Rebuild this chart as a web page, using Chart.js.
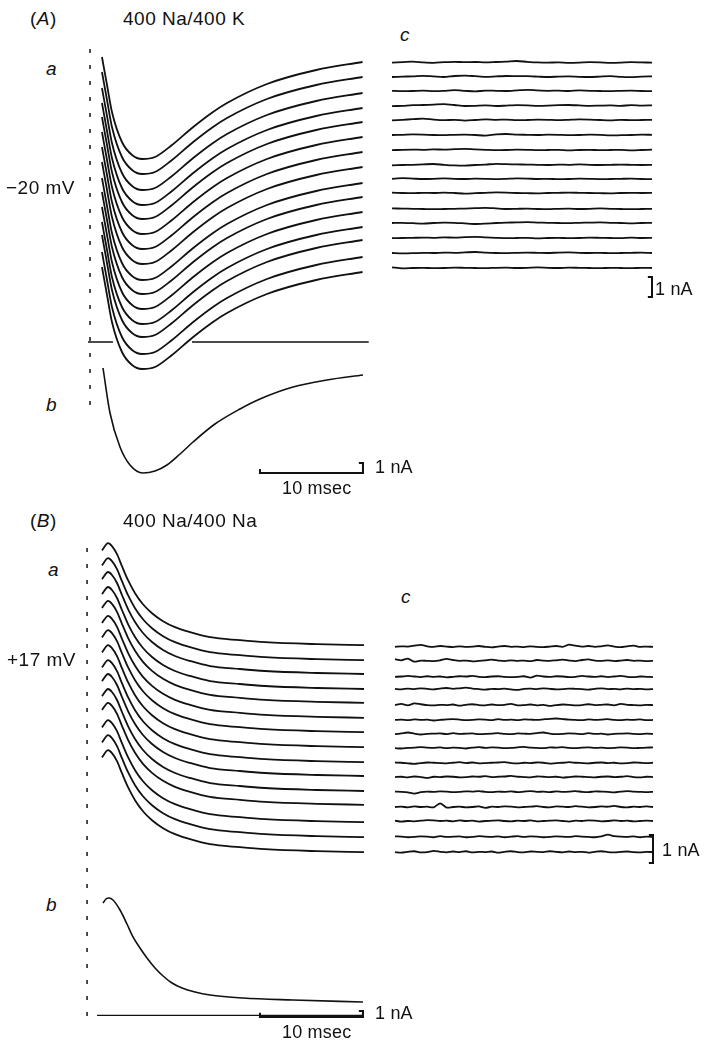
<!DOCTYPE html>
<html>
<head>
<meta charset="utf-8">
<script src="https://cdn.jsdelivr.net/npm/chart.js@4.4.1/dist/chart.umd.min.js"></script>
<style>
  html, body { margin: 0; padding: 0; background: #fff; }
  body { position: relative; width: 704px; height: 1042px; overflow: hidden;
         font-family: "Liberation Sans", Arial, sans-serif; color: #111; }
  canvas { position: absolute; }
  .lbl { position: absolute; font-size: 19px; line-height: 19px; white-space: nowrap; letter-spacing: 0.5px; }
  .sm { font-size: 18px; line-height: 18px; letter-spacing: 0.2px; }
  .it { font-style: italic; }
</style>
</head>
<body>
<canvas id="chartAab"></canvas>
<canvas id="chartAc"></canvas>
<canvas id="chartBab"></canvas>
<canvas id="chartBc"></canvas>

<div class="lbl" style="left:30px;top:9px">(<span class="it">A</span>)</div>
<div class="lbl" style="left:123px;top:9px">400 Na/400 K</div>
<div class="lbl it" style="left:46px;top:59px">a</div>
<div class="lbl" style="left:6px;top:178px">−20 mV</div>
<div class="lbl it" style="left:400px;top:25px">c</div>
<div class="lbl sm" style="left:655px;top:280px">1 nA</div>
<div class="lbl it" style="left:46px;top:395px">b</div>
<div class="lbl sm" style="left:375px;top:458px">1 nA</div>
<div class="lbl sm" style="left:282px;top:479px">10 msec</div>

<div class="lbl" style="left:30px;top:511px">(<span class="it">B</span>)</div>
<div class="lbl" style="left:123px;top:511px">400 Na/400 Na</div>
<div class="lbl it" style="left:48px;top:560px">a</div>
<div class="lbl" style="left:7px;top:650px">+17 mV</div>
<div class="lbl it" style="left:401px;top:587px">c</div>
<div class="lbl sm" style="left:662px;top:841px">1 nA</div>
<div class="lbl it" style="left:46px;top:895px">b</div>
<div class="lbl sm" style="left:375px;top:1004px">1 nA</div>
<div class="lbl sm" style="left:282px;top:1023px">10 msec</div>

<script>
// ---- panel A (400 Na/400 K), a: family of 15 records, time in msec, current in nA
const aTimesA = [-0.1, 0.39, 0.87, 1.84, 2.82, 3.79, 5.05, 6.70, 8.64, 10.68, 12.04, 15.92, 20.7, 25.2];
const aShapeA = [0.5, -2.3, -5.0, -8.0, -9.3, -9.7, -9.5, -8.3, -6.6, -5.0, -4.1, -2.2, -0.8, 0];
const aLevelsA = [28.0, 26.5, 24.9, 23.4, 22.0, 20.5, 19.0, 17.5, 15.9, 14.5, 13.0, 11.5, 10.2, 8.5, 7.0];

// panel A, b: averaged record
const bTimesA = [0, 0.68, 1.65, 2.62, 3.88, 5.05, 6.21, 7.48, 8.74, 10.87, 13.30, 15.24, 18.45, 21.75, 25.24];
const bValuesA = [-2.6, -7.1, -10.5, -12.3, -13.1, -12.9, -12.3, -11.2, -10.0, -8.2, -6.7, -5.7, -4.5, -3.8, -3.3];

// panel A, c: residuals, levels in nA, deviations in 0.01 nA
const cTimesA = [0,1,2,3,4,5,6,7,8,9,10,11,12,13,14,15,16,17,18,19,20,21,22,23,24,25];
const cLevelsA = [11.87, 11.17, 10.45, 9.72, 9.0, 8.25, 7.5, 6.75, 6.05, 5.35, 4.55, 3.85, 3.1, 2.35, 1.6];
const cNoiseA = [
  [0,2,5,1,-1,2,4,2,3,1,3,5,8,4,1,0,1,-1,0,2,1,-1,0,2,1,0],
  [-2,0,1,4,1,-2,3,5,2,-1,1,3,2,2,0,-2,0,1,-1,-2,0,2,-1,-3,0,1],
  [1,-1,0,2,-1,1,4,1,-2,2,1,0,3,6,3,1,2,0,3,1,0,-1,1,2,0,-1],
  [-3,-1,2,3,5,7,3,-2,-1,1,-2,0,2,1,-1,0,2,3,1,-1,0,1,-1,2,0,1],
  [-2,1,4,7,2,-1,1,-3,0,3,1,2,-1,0,2,1,-1,1,3,2,0,-2,1,-1,0,1],
  [0,1,3,2,0,-1,1,2,0,-3,3,5,2,1,0,2,1,-1,0,2,1,-2,-1,0,2,1],
  [-1,1,2,1,3,2,4,6,3,1,-1,0,2,1,-1,0,1,-2,0,1,-1,0,1,-2,0,2],
  [-2,0,1,3,5,1,-2,-3,0,2,6,4,3,2,1,0,2,1,3,1,0,1,2,1,0,1],
  [1,4,2,0,1,3,1,0,2,1,-1,1,3,2,0,1,-1,0,2,1,-1,0,1,2,0,-1],
  [2,0,-1,1,0,2,0,-3,-1,1,3,2,0,-1,-2,0,1,2,1,0,-1,-2,0,1,0,1],
  [3,2,1,0,-1,0,1,2,4,6,3,0,1,2,0,-1,1,2,0,1,3,1,0,-1,0,1],
  [0,1,-1,-3,0,2,1,-2,-5,-3,0,2,3,4,2,1,0,-1,1,2,3,1,0,-2,0,1],
  [-1,0,1,2,1,3,2,4,6,3,1,-1,0,1,-2,0,1,-1,0,2,1,0,-1,2,0,1],
  [0,-2,-1,1,0,2,1,3,5,2,0,-1,1,2,1,0,2,3,1,0,1,-1,0,1,2,0],
  [3,-2,0,1,-1,0,2,1,0,-1,1,2,0,1,3,1,0,2,1,0,-1,1,0,-1,1,0]
];

// ---- panel B (400 Na/400 Na)
const aTimesB = [-0.1, 0.49, 0.87, 1.36, 1.84, 2.43, 3.11, 3.88, 4.76, 5.83, 6.99, 8.45, 10.39, 13.30, 15.73, 20.78, 25.34];
const aShapeB = [15.8, 17.0, 16.5, 15.17, 13.17, 10.83, 8.67, 6.83, 5.33, 4.0, 3.0, 2.17, 1.33, 0.83, 0.5, 0.17, 0];
const aLevelsB = [61.8, 59.3, 57.0, 54.5, 52.2, 49.7, 47.3, 44.8, 42.3, 40.0, 37.5, 35.2, 32.3, 29.8, 27.3];

const bTimesB = [0, 0.29, 0.58, 0.97, 1.65, 2.33, 2.91, 3.59, 4.27, 5.05, 5.83, 6.70, 7.67, 8.93, 10.39, 13.59, 18.45, 25.24];
const bValuesB = [18.83, 19.5, 19.67, 19.33, 17.67, 15.33, 13.17, 11.33, 9.67, 8.0, 6.67, 5.5, 4.67, 4.0, 3.5, 3.0, 2.67, 2.33];

const cTimesB = [0,0.625,1.25,1.875,2.5,3.125,3.75,4.375,5,5.625,6.25,6.875,7.5,8.125,8.75,9.375,10,10.625,11.25,11.875,12.5,13.125,13.75,14.375,15,15.625,16.25,16.875,17.5,18.125,18.75,19.375,20,20.625,21.25,21.875,22.5,23.125,23.75,24.375,25];
const cLevelsB = [7.97, 7.47, 6.90, 6.46, 5.89, 5.36, 4.86, 4.36, 3.82, 3.32, 2.79, 2.25, 1.75, 1.18, 0.64];
const cNoiseB = [
  [0,2,1,4,7,2,0,3,1,-1,2,0,1,3,0,-2,1,3,0,1,-1,2,0,-1,1,3,0,8,4,1,3,0,2,5,1,-1,2,4,0,1,0],
  [6,2,8,-3,1,0,-1,2,7,3,0,1,-2,0,2,4,1,-1,2,0,1,-1,3,1,0,2,4,1,-1,3,5,1,0,2,-1,1,3,0,1,-1,0],
  [0,1,3,1,-1,2,0,1,-2,0,2,1,3,0,-1,1,2,0,-1,0,2,-3,4,1,0,2,1,-1,0,3,1,0,2,-1,1,3,0,-1,1,0,-1],
  [1,-1,2,0,3,1,-1,2,4,1,3,5,2,0,-2,1,0,2,-1,-3,1,2,0,3,1,-1,0,2,1,0,-2,1,3,0,1,-1,2,0,1,-1,0],
  [0,4,-1,6,3,0,-1,1,0,2,-2,1,3,0,-1,2,0,1,4,-1,0,2,-1,1,-3,0,2,1,-1,0,3,0,1,2,-1,4,1,0,-1,1,0],
  [0,1,-1,2,0,1,-2,0,2,3,1,-1,0,2,1,-1,3,0,1,-1,2,1,0,2,4,5,3,1,0,-1,2,0,1,3,0,-1,1,0,2,-1,0],
  [-1,2,5,1,-2,0,1,2,-1,3,0,1,2,-1,0,1,3,0,-1,2,1,0,3,5,1,-1,0,2,1,-1,3,0,1,-2,0,1,2,0,-1,1,0],
  [-1,-2,0,1,3,1,0,2,-1,1,0,-2,1,3,0,2,1,-1,0,2,4,1,0,-1,2,1,3,0,-1,1,2,0,1,-1,0,2,1,-1,0,1,2],
  [2,1,-1,-3,0,2,1,0,-1,1,3,0,2,-1,0,1,2,3,0,-1,1,0,2,1,-2,0,1,3,1,0,-1,1,2,0,1,-1,0,2,1,0,1],
  [0,1,-1,2,0,-3,1,0,2,1,-1,0,2,1,3,0,1,2,4,1,0,-1,2,1,0,1,-2,0,2,1,0,-1,1,2,0,1,3,0,-1,1,0],
  [1,0,-2,-6,-1,1,0,2,1,-1,0,2,1,3,0,-1,1,0,2,-1,1,3,0,1,-1,2,0,1,3,0,-1,2,1,0,-2,1,3,1,0,-1,0],
  [0,1,-1,2,0,1,-1,13,-2,0,1,-1,0,2,-3,1,0,2,1,-1,0,1,3,0,-1,2,1,0,3,1,-1,0,2,1,4,0,-1,1,0,2,0],
  [1,-2,0,-1,1,3,2,0,1,-1,2,0,1,-2,0,1,2,0,-1,1,0,2,-1,0,1,2,0,-2,1,0,2,1,-1,0,2,0,1,-1,0,1,0],
  [2,1,-1,0,2,1,-1,3,0,1,2,-1,0,3,1,0,2,-1,1,3,0,2,1,-1,0,2,1,0,3,1,0,-1,2,8,3,1,0,2,-1,1,0],
  [0,-2,1,3,-1,0,4,1,-1,2,0,3,-1,1,0,2,-2,1,3,0,-1,2,1,0,3,1,-1,2,0,1,-2,1,3,0,-1,1,2,0,-1,1,0]
];

// scale bars and markers (msec / nA)
const stimTimeA = -1.26, stimTimeB = -1.55;
const barA = { t0: 15.24, t1: 25.24, i: -13.1 };
const barB = { t0: 15.24, t1: 25.24, i: -0.17 };

const ink = "#111";

function trace(xs, ys, off, width, smooth) {
  return {
    data: xs.map((x, i) => ({ x, y: ys[i] + off })),
    borderColor: ink, borderWidth: width, pointRadius: 0, fill: false,
    cubicInterpolationMode: smooth ? "monotone" : "default", tension: smooth ? 0 : 0.25
  };
}

function poly(points, width, dash) {
  return {
    data: points.map(p => ({ x: p[0], y: p[1] })),
    borderColor: ink, borderWidth: width, pointRadius: 0, fill: false,
    borderDash: dash || [], borderCapStyle: "butt", borderJoinStyle: "miter", tension: 0
  };
}

// box: canvas in page px; origin px of value 0 on each axis and px per unit
function makeChart(id, box, x0px, xScale, y0px, yScale, datasets) {
  const c = document.getElementById(id);
  c.width = box.w; c.height = box.h;
  c.style.left = box.l + "px"; c.style.top = box.t + "px";
  new Chart(c, {
    type: "line",
    data: { datasets },
    options: {
      responsive: false, animation: false, devicePixelRatio: 1,
      layout: { padding: 0 },
      plugins: { legend: { display: false }, tooltip: { enabled: false } },
      scales: {
        x: { type: "linear", display: false,
             min: (box.l - x0px) / xScale, max: (box.l + box.w - x0px) / xScale },
        y: { type: "linear", display: false,
             min: (y0px - box.t - box.h) / yScale, max: (y0px - box.t) / yScale }
      }
    }
  });
}

// ---- panel A, a + b
const dsAab = [];
aLevelsA.forEach(lv => dsAab.push(trace(aTimesA, aShapeA, lv, 1.8, true)));
dsAab.push(trace(bTimesA, bValuesA, 0, 1.6, true));
dsAab.push(poly([[-1.46, 0], [0.97, 0], [4, null], [8.64, 0], [25.8, 0]], 1.5));
dsAab.push(poly([[stimTimeA, 29.3], [stimTimeA, -7.3]], 1.5, [4, 12]));
dsAab.push(poly([[barA.t0, barA.i + 0.4], [barA.t0, barA.i], [barA.t1, barA.i],
                 [barA.t1, barA.i + 1], [barA.t1 - 0.4, barA.i + 1]], 2));
makeChart("chartAab", { l: 60, t: 40, w: 320, h: 450 }, 103, 10.3, 342, 10, dsAab);

// ---- panel A, c
const dsAc = cLevelsA.map((lv, k) => trace(cTimesA, cNoiseA[k].map(v => v * 0.01), lv, 1.8, false));
dsAc.push(poly([[24.6, 1.15], [25.0, 1.15], [25.0, 0.15], [24.6, 0.15]], 2));
makeChart("chartAc", { l: 385, t: 50, w: 280, h: 260 }, 392, 10.4, 300, 20, dsAc);

// ---- panel B, a + b
const dsBab = [];
aLevelsB.forEach(lv => dsBab.push(trace(aTimesB, aShapeB, lv, 1.8, true)));
dsBab.push(trace(bTimesB, bValuesB, 0, 1.6, true));
dsBab.push(poly([[-0.58, 0.1], [25.2, 0.1]], 1.3));
dsBab.push(poly([[stimTimeB, 78], [stimTimeB, -1.0]], 1.5, [4, 12]));
dsBab.push(poly([[barB.t0, barB.i + 0.7], [barB.t0, barB.i], [barB.t1, barB.i],
                 [barB.t1, barB.i + 1], [barB.t1 - 0.4, barB.i + 1]], 2));
makeChart("chartBab", { l: 60, t: 530, w: 320, h: 510 }, 103, 10.3, 1016, 6, dsBab);

// ---- panel B, c
const dsBc = cLevelsB.map((lv, k) => trace(cTimesB, cNoiseB[k].map(v => v * 0.01), lv, 1.8, false));
dsBc.push(poly([[24.6, 1.25], [25.0, 1.25], [25.0, 0.25], [24.6, 0.25]], 2));
makeChart("chartBc", { l: 385, t: 630, w: 280, h: 245 }, 395, 10.32, 870, 28, dsBc);
</script>
</body>
</html>
